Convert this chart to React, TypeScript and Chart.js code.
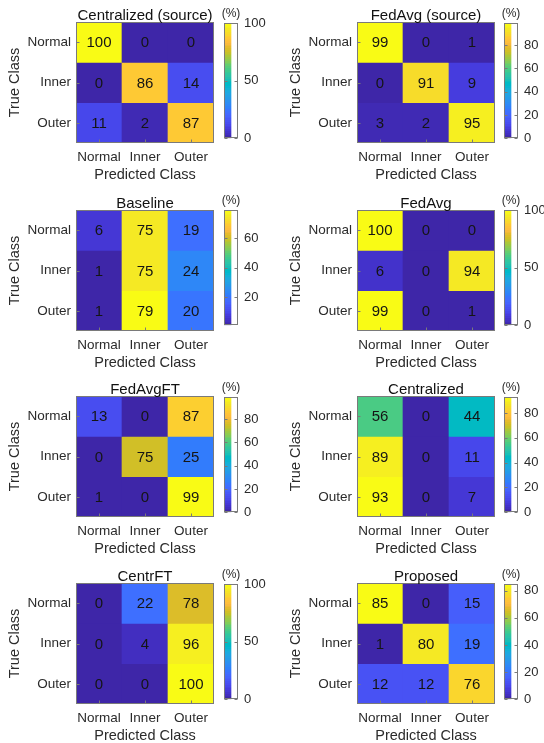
import React, { useEffect, useRef } from "react";
import { Chart, registerables } from "chart.js";
Chart.register(...registerables);

// ---------- data ----------
const classes = ["Normal", "Inner", "Outer"];
const panelTitles = [
  "Centralized (source)",
  "FedAvg (source)",
  "Baseline",
  "FedAvg",
  "FedAvgFT",
  "Centralized",
  "CentrFT",
  "Proposed",
];
const centralizedSource = [[100, 0, 0], [0, 86, 14], [11, 2, 87]];
const fedAvgSource = [[99, 0, 1], [0, 91, 9], [3, 2, 95]];
const baseline = [[6, 75, 19], [1, 75, 24], [1, 79, 20]];
const fedAvg = [[100, 0, 0], [6, 0, 94], [99, 0, 1]];
const fedAvgFT = [[13, 0, 87], [0, 75, 25], [1, 0, 99]];
const centralized = [[56, 0, 44], [89, 0, 11], [93, 0, 7]];
const centrFT = [[0, 22, 78], [0, 4, 96], [0, 0, 100]];
const proposed = [[85, 0, 15], [1, 80, 19], [12, 12, 76]];
const matrices = [centralizedSource, fedAvgSource, baseline, fedAvg, fedAvgFT, centralized, centrFT, proposed];
const colorbarTicks = [
  [0, 50, 100],
  [0, 20, 40, 60, 80],
  [20, 40, 60],
  [0, 50, 100],
  [0, 20, 40, 60, 80],
  [0, 20, 40, 60, 80],
  [0, 50, 100],
  [0, 20, 40, 60, 80],
];
const colorbarUnit = "(%)";
const xTitle = "Predicted Class";
const yTitle = "True Class";

// ---------- layout / style ----------
const panelBoxes = [
  { hx: 76, hy: 22, cx: 224, cy: 23 },
  { hx: 357, hy: 22, cx: 504, cy: 23 },
  { hx: 76, hy: 210, cx: 224, cy: 210 },
  { hx: 357, hy: 210, cx: 504, cy: 210 },
  { hx: 76, hy: 396, cx: 224, cy: 397 },
  { hx: 357, hy: 396, cx: 504, cy: 397 },
  { hx: 76, hy: 583, cx: 224, cy: 584 },
  { hx: 357, hy: 583, cx: 504, cy: 584 },
];
const HEAT_W = 138;
const HEAT_H = 121;
const CB_W = 14;
const CB_H = 119;
const L = 76, T = 22, B = 45, R = 4;
const FONT = "'Liberation Sans', Arial, Helvetica, sans-serif";
const TEXT = "#2b2b2b";
const FRAME = "#7a7a7a";

const PARULA = [
  [0.2422, 0.1504, 0.6603], [0.2504, 0.165, 0.7076], [0.2578, 0.1818, 0.7511], [0.2647, 0.1978, 0.7952],
  [0.2706, 0.2147, 0.8364], [0.2751, 0.2342, 0.871], [0.2783, 0.2559, 0.8991], [0.2803, 0.2782, 0.9221],
  [0.2813, 0.3006, 0.9414], [0.281, 0.3228, 0.9579], [0.2795, 0.3447, 0.9717], [0.276, 0.3667, 0.9829],
  [0.2699, 0.3892, 0.9906], [0.2602, 0.4123, 0.9952], [0.244, 0.4358, 0.9988], [0.2206, 0.4603, 0.9973],
  [0.1963, 0.4847, 0.9892], [0.1834, 0.5074, 0.9798], [0.1786, 0.5289, 0.9682], [0.1764, 0.5499, 0.952],
  [0.1687, 0.5703, 0.9359], [0.154, 0.5902, 0.9218], [0.146, 0.6091, 0.9079], [0.138, 0.6276, 0.8973],
  [0.1248, 0.6459, 0.8883], [0.1113, 0.6635, 0.8763], [0.0952, 0.6798, 0.8598], [0.0689, 0.6948, 0.8394],
  [0.0297, 0.7082, 0.8163], [0.0036, 0.7203, 0.7917], [0.0067, 0.7312, 0.766], [0.0433, 0.7411, 0.7394],
  [0.0964, 0.75, 0.712], [0.1408, 0.7584, 0.6842], [0.1717, 0.767, 0.6554], [0.1938, 0.7758, 0.6251],
  [0.2161, 0.7843, 0.5923], [0.247, 0.7918, 0.5567], [0.2906, 0.7973, 0.5188], [0.3406, 0.8008, 0.4789],
  [0.3909, 0.8029, 0.4354], [0.4456, 0.8024, 0.3909], [0.5044, 0.7993, 0.348], [0.5616, 0.7942, 0.3045],
  [0.6174, 0.7876, 0.2612], [0.672, 0.7793, 0.2227], [0.7242, 0.7698, 0.191], [0.7738, 0.7598, 0.1646],
  [0.8203, 0.7498, 0.1535], [0.8634, 0.7406, 0.1596], [0.9035, 0.733, 0.1774], [0.9393, 0.7288, 0.21],
  [0.9728, 0.7298, 0.2394], [0.9956, 0.7434, 0.2371], [0.997, 0.7659, 0.2199], [0.9952, 0.7893, 0.2028],
  [0.9892, 0.8136, 0.1885], [0.9786, 0.8386, 0.1766], [0.9676, 0.8639, 0.1643], [0.961, 0.889, 0.1537],
  [0.9597, 0.9135, 0.1423], [0.9628, 0.9373, 0.1265], [0.9691, 0.9606, 0.1064], [0.9769, 0.9839, 0.0805],
];

function rgb(c: number[]) {
  return `rgb(${Math.round(c[0] * 255)},${Math.round(c[1] * 255)},${Math.round(c[2] * 255)})`;
}
function parula(v: number, cmin: number, cmax: number) {
  const t = cmax > cmin ? (v - cmin) / (cmax - cmin) : 0;
  const idx = Math.max(0, Math.min(63, Math.floor(t * 64)));
  return rgb(PARULA[idx]);
}

const boxTitlePlugin = {
  id: "boxTitle",
  afterDraw(chart: any, _args: any, opts: any) {
    if (!opts || !opts.text) return;
    const { ctx, chartArea } = chart;
    ctx.save();
    ctx.font = `${opts.size}px ${FONT}`;
    ctx.fillStyle = opts.color || "#000";
    ctx.textAlign = "center";
    ctx.textBaseline = "alphabetic";
    ctx.fillText(opts.text, (chartArea.left + chartArea.right) / 2, chartArea.top - opts.gap);
    ctx.restore();
  },
};

// frame around the plot area plus small inward tick marks (MATLAB style)
const frameRect = {
  id: "frameRect",
  afterDatasetsDraw(chart: any, _a: any, opts: any) {
    const { ctx, chartArea } = chart;
    const l = Math.round(chartArea.left) + 0.5;
    const t = Math.round(chartArea.top) + 0.5;
    const r = Math.round(chartArea.right) - 0.5;
    const b = Math.round(chartArea.bottom) - 0.5;
    ctx.save();
    ctx.strokeStyle = FRAME;
    ctx.lineWidth = 1;
    ctx.strokeRect(l, t, r - l, b - t);
    const len = 3;
    ctx.beginPath();
    const ys = chart.scales.y;
    if (ys && ys.ticks) {
      ys.ticks.forEach((tk: any) => {
        const py = Math.round(ys.getPixelForValue(tk.value)) + 0.5;
        if (opts && opts.yLeft) { ctx.moveTo(l, py); ctx.lineTo(l + len, py); }
        if (opts && opts.yRight) { ctx.moveTo(r, py); ctx.lineTo(r - len, py); }
      });
    }
    const xs = chart.scales.x;
    if (opts && opts.xBottom && xs) {
      xs.ticks.forEach((_tk: any, i: number) => {
        const px = Math.round(xs.getPixelForTick(i)) + 0.5;
        ctx.moveTo(px, b); ctx.lineTo(px, b - len);
      });
    }
    ctx.stroke();
    ctx.restore();
  },
};

function Heatmap({ index }: { index: number }) {
  const ref = useRef<HTMLCanvasElement>(null);
  const box = panelBoxes[index];
  const W = L + HEAT_W + R;
  const H = T + HEAT_H + B;
  useEffect(() => {
    const matrix = matrices[index];
    const flat = matrix.flat();
    const cmin = Math.min(...flat);
    const cmax = Math.max(...flat);
    const cellLabels = {
      id: "cellLabels",
      afterDatasetsDraw(chart: any) {
        const ctx = chart.ctx;
        ctx.save();
        ctx.font = `15px ${FONT}`;
        ctx.fillStyle = "#151515";
        ctx.textAlign = "center";
        ctx.textBaseline = "middle";
        chart.data.datasets.forEach((_ds: any, i: number) => {
          const meta = chart.getDatasetMeta(i);
          meta.data.forEach((el: any, j: number) => {
            const p = el.getProps(["x", "y", "base"], true);
            ctx.fillText(String(matrix[i][j]), p.x, (p.y + p.base) / 2 + 1);
          });
        });
        ctx.restore();
      },
    };
    const chart = new Chart(ref.current as HTMLCanvasElement, {
      type: "bar",
      data: {
        labels: classes,
        datasets: matrix.map((row, r) => ({
          label: classes[r],
          data: row.map(() => [r, r + 1]),
          backgroundColor: row.map((v) => parula(v, cmin, cmax)),
          borderWidth: 0,
          barPercentage: 1,
          categoryPercentage: 1,
          grouped: false,
        })),
      } as any,
      options: {
        responsive: false,
        animation: false,
        events: [],
        layout: { padding: { top: T, right: R, left: 0, bottom: 0 } },
        plugins: {
          legend: { display: false },
          tooltip: { enabled: false },
          title: { display: false },
          boxTitle: { text: panelTitles[index], size: 15, gap: 2.5, color: "#111" },
          frameRect: { yLeft: true, xBottom: true },
        } as any,
        scales: {
          x: {
            type: "category",
            offset: true,
            grid: { display: false, drawTicks: false },
            border: { display: false },
            ticks: { font: { family: FONT, size: 13.5 }, color: TEXT, padding: 6, maxRotation: 0, autoSkip: false },
            title: { display: true, text: xTitle, font: { family: FONT, size: 14.5 }, color: TEXT, padding: { top: 0, bottom: 4 } },
            afterFit: (s: any) => { s.height = B; },
          },
          y: {
            type: "linear",
            min: 0,
            max: 3,
            reverse: true,
            grid: { display: false, drawTicks: false },
            border: { display: false },
            afterBuildTicks: (s: any) => { s.ticks = [0.5, 1.5, 2.5].map((v) => ({ value: v })); },
            ticks: {
              font: { family: FONT, size: 13.5 },
              color: TEXT,
              padding: 5,
              callback: (_v: any, i: number) => classes[i],
            },
            title: { display: true, text: yTitle, font: { family: FONT, size: 14.5 }, color: TEXT, padding: { top: 6, bottom: 0 } },
            afterFit: (s: any) => { s.width = L; },
          },
        } as any,
      },
      plugins: [cellLabels, boxTitlePlugin, frameRect],
    });
    return () => chart.destroy();
  }, [index]);
  return (
    <canvas
      ref={ref}
      width={W}
      height={H}
      style={{ position: "absolute", left: box.hx - L, top: box.hy - T, width: W, height: H }}
    />
  );
}

function Colorbar({ index }: { index: number }) {
  const ref = useRef<HTMLCanvasElement>(null);
  const box = panelBoxes[index];
  const RW = 34, BP = 10, LP = 12;
  const W = LP + CB_W + RW;
  const H = T + CB_H + BP;
  useEffect(() => {
    const flat = matrices[index].flat();
    const cmin = Math.min(...flat);
    const cmax = Math.max(...flat);
    const chart = new Chart(ref.current as HTMLCanvasElement, {
      type: "bar",
      data: {
        labels: [""],
        datasets: [
          {
            data: [[cmin, cmax]],
            borderWidth: 0,
            barPercentage: 1,
            categoryPercentage: 1,
            backgroundColor: (ctx: any) => {
              const area = ctx.chart.chartArea;
              if (!area) return "#000";
              const g = ctx.chart.ctx.createLinearGradient(0, area.bottom, 0, area.top);
              for (let k = 0; k < 64; k++) {
                const c = rgb(PARULA[k]);
                g.addColorStop(k / 64, c);
                g.addColorStop((k + 1) / 64, c);
              }
              return g;
            },
          },
        ],
      } as any,
      options: {
        responsive: false,
        animation: false,
        events: [],
        layout: { padding: { top: T, right: 0, left: LP, bottom: BP } },
        plugins: {
          legend: { display: false },
          tooltip: { enabled: false },
          title: { display: false },
          boxTitle: { text: colorbarUnit, size: 12, gap: 6, color: TEXT },
          frameRect: { yLeft: true, yRight: true },
        } as any,
        scales: {
          x: { display: false, offset: false },
          y: {
            type: "linear",
            position: "right",
            min: cmin,
            max: cmax,
            grid: { display: false, drawTicks: false },
            border: { display: false },
            afterBuildTicks: (s: any) => { s.ticks = colorbarTicks[index].map((v) => ({ value: v })); },
            ticks: { font: { family: FONT, size: 13 }, color: TEXT, padding: 6 },
            afterFit: (s: any) => { s.width = RW; },
          },
        } as any,
      },
      plugins: [boxTitlePlugin, frameRect],
    });
    return () => chart.destroy();
  }, [index]);
  return (
    <canvas
      ref={ref}
      width={W}
      height={H}
      style={{ position: "absolute", left: box.cx - LP, top: box.cy - T, width: W, height: H }}
    />
  );
}

export default function App() {
  return (
    <div
      style={{
        position: "absolute",
        left: 0,
        top: 0,
        width: 544,
        height: 743,
        background: "#ffffff",
        overflow: "hidden",
      }}
    >
      {matrices.map((_m, i) => (
        <React.Fragment key={i}>
          <Heatmap index={i} />
          <Colorbar index={i} />
        </React.Fragment>
      ))}
    </div>
  );
}
